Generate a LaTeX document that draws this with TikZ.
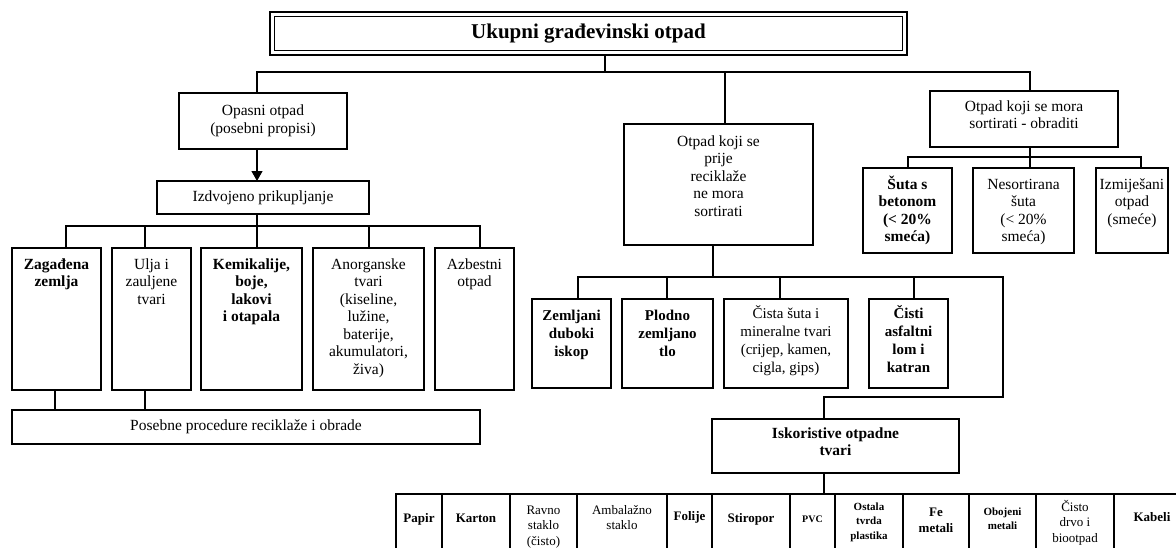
\documentclass[tikz,border=0pt]{standalone}
\usepackage{fontspec}
\setmainfont{Liberation Serif}
\usetikzlibrary{arrows.meta}
\newcommand\tb[4]{\parbox[c][#2pt][t]{#1pt}{\centering\rule{0pt}{#3pt}#4\par}}
\tikzset{
  bx/.style={draw, line width=1.1pt, inner sep=0pt, outer sep=0pt, anchor=north west},
  ln/.style={line width=1.1pt},
  rg/.style={font=\fontsize{15.5}{17.5}\selectfont},
  bd/.style={font=\fontsize{15.5}{17.5}\selectfont\bfseries},
  mr/.style={font=\fontsize{15}{18}\selectfont},
  mb/.style={font=\fontsize{15}{18}\selectfont\bfseries},
  sb/.style={font=\fontsize{13}{15.5}\selectfont\bfseries},
  sr/.style={font=\fontsize{13}{15.5}\selectfont},
}
\begin{document}
\begin{tikzpicture}[x=1pt,y=-1pt]
\useasboundingbox (0,0) rectangle (1176,547);
\clip (0,0) rectangle (1176,547);
% title
\node[bx, line width=2.6pt, minimum width=637pt, minimum height=43pt, font=\fontsize{21}{24}\selectfont\bfseries] (title) at (270,12) {Ukupni građevinski otpad};
\draw[line width=1pt] ([shift={(4.5,4.5)}]title.north west) rectangle ([shift={(-4.5,-4.5)}]title.south east);
% level 1
\node[bx, rg, minimum width=168pt, minimum height=56pt, align=center] (opas) at (179,93) {Opasni otpad\\(posebni propisi)};
\node[bx, rg] (otp) at (624,124) {\tb{189}{121}{22}{Otpad koji se\\prije\\reciklaže\\ne mora\\sortirati}};
\node[bx, rg] (mora) at (930,91) {\tb{188}{56}{20}{Otpad koji se mora\\sortirati - obraditi}};
% left branch
\node[bx, rg, minimum width=212pt, minimum height=33pt] (izd) at (157,181) {Izdvojeno prikupljanje};
\node[bx, bd] (zag) at (12,248) {\tb{89}{142}{21}{Zagađena\\zemlja}};
\node[bx, rg] (ulja) at (112,248) {\tb{79}{142}{21}{Ulja i\\zauljene\\tvari}};
\node[bx, bd] (kem) at (201,248) {\tb{101}{142}{21}{Kemikalije,\\boje,\\lakovi\\i otapala}};
\node[bx, rg] (anor) at (313,248) {\tb{111}{142}{21}{Anorganske\\tvari\\(kiseline,\\lužine,\\baterije,\\akumulatori,\\živa)}};
\node[bx, rg] (azb) at (435,248) {\tb{79}{142}{21}{Azbestni\\otpad}};
\node[bx, rg, minimum width=468pt, minimum height=34pt] (pos) at (12,410) {Posebne procedure reciklaže i obrade};
% right branch
\node[bx, bd] (suta) at (863,168) {\tb{89}{85}{21}{Šuta s\\betonom\\(< 20\%\\smeća)}};
\node[bx, rg] (nes) at (973,168) {\tb{101}{85}{21}{Nesortirana\\šuta\\(< 20\%\\smeća)}};
\node[bx, rg] (izm) at (1096,168) {\tb{72}{85}{21}{Izmiješani\\otpad\\(smeće)}};
% middle branch
\node[bx, mb] (zem) at (532,299) {\tb{79}{89}{21}{Zemljani\\duboki\\iskop}};
\node[bx, mb] (plod) at (622,299) {\tb{91}{89}{21}{Plodno\\zemljano\\tlo}};
\node[bx, mr] (cis) at (724,299) {\tb{124}{89}{19}{Čista šuta i\\mineralne tvari\\(crijep, kamen,\\cigla, gips)}};
\node[bx, mb] (asf) at (869,299) {\tb{79}{89}{19}{Čisti\\asfaltni\\lom i\\katran}};
\node[bx, bd] (isk) at (712,419) {\tb{247}{54}{19}{Iskoristive otpadne\\tvari}};
% bottom row
\node[bx, sb] (pap) at (396,494) {\tb{46}{60}{28}{Papir}};
\node[bx, sb] (kar) at (442,494) {\tb{68}{60}{28}{Karton}};
\node[bx, sr] (rav) at (510,494) {\tb{67}{60}{20}{Ravno\\staklo\\(čisto)}};
\node[bx, sr] (amb) at (577,494) {\tb{90}{60}{20}{Ambalažno\\staklo}};
\node[bx, sb] (fol) at (667,494) {\tb{45}{60}{26}{Folije}};
\node[bx, sb] (sti) at (712,494) {\tb{78}{60}{28}{Stiropor}};
\node[bx, font=\fontsize{10}{12}\selectfont\bfseries] (pvc) at (790,494) {\tb{45}{60}{28}{PVC}};
\node[bx, font=\fontsize{11}{14.5}\selectfont\bfseries] (ost) at (835,494) {\tb{68}{60}{16}{Ostala\\tvrda\\plastika}};
\node[bx, font=\fontsize{13}{16}\selectfont\bfseries] (fe) at (903,494) {\tb{66}{60}{22}{Fe\\metali}};
\node[bx, font=\fontsize{11}{14}\selectfont\bfseries] (obo) at (969,494) {\tb{67}{60}{21}{Obojeni\\metali}};
\node[bx, sr] (drv) at (1036,494) {\tb{78}{60}{17}{Čisto\\drvo i\\biootpad}};
\node[bx, sb] (kab) at (1114,494) {\tb{76}{60}{27}{Kabeli}};
% connectors: top
\coordinate (t0) at (605,72);
\coordinate (bl) at (257,72);
\coordinate (bm) at (725,72);
\coordinate (br) at (1030,72);
\draw[ln] (title.south -| t0) -- (t0);
\draw[ln] (opas.north -| bl) -- (bl) -- (br) -- (mora.north -| br);
\draw[ln] (bm) -- (otp.north -| bm);
\draw[ln, -{Triangle[length=10pt,width=11pt]}] (opas.south -| bl) -- (izd.north -| bl);
% left bus
\coordinate (l1) at (66,226);
\coordinate (l2) at (145,226);
\coordinate (l3) at (257,226);
\coordinate (l4) at (369,226);
\coordinate (l5) at (480,226);
\draw[ln] (izd.south -| l3) -- (l3);
\draw[ln] (zag.north -| l1) -- (l1) -- (l5) -- (azb.north -| l5);
\draw[ln] (l2) -- (ulja.north -| l2);
\draw[ln] (l3) -- (kem.north -| l3);
\draw[ln] (l4) -- (anor.north -| l4);
\coordinate (p1) at (55,400);
\coordinate (p2) at (145,400);
\draw[ln] (zag.south -| p1) -- (pos.north -| p1);
\draw[ln] (ulja.south -| p2) -- (pos.north -| p2);
% right bus
\coordinate (r0) at (1030,157);
\coordinate (r1) at (908,157);
\coordinate (r3) at (1141,157);
\draw[ln] (mora.south -| r0) -- (r0);
\draw[ln] (suta.north -| r1) -- (r1) -- (r3) -- (izm.north -| r3);
\draw[ln] (r0) -- (nes.north -| r0);
% middle bus
\coordinate (m0) at (713,277);
\coordinate (m1) at (578,277);
\coordinate (m2) at (667,277);
\coordinate (m3) at (780,277);
\coordinate (m4) at (914,277);
\coordinate (m5) at (1003,277);
\coordinate (m6) at (1003,397);
\coordinate (m7) at (824,397);
\draw[ln] (otp.south -| m0) -- (m0);
\draw[ln] (zem.north -| m1) -- (m1) -- (m5) -- (m6) -- (m7) -- (isk.north -| m7);
\draw[ln] (m2) -- (plod.north -| m2);
\draw[ln] (m3) -- (cis.north -| m3);
\draw[ln] (m4) -- (asf.north -| m4);
\draw[ln] (isk.south -| m7) -- (pvc.north -| m7);
\end{tikzpicture}
\end{document}
